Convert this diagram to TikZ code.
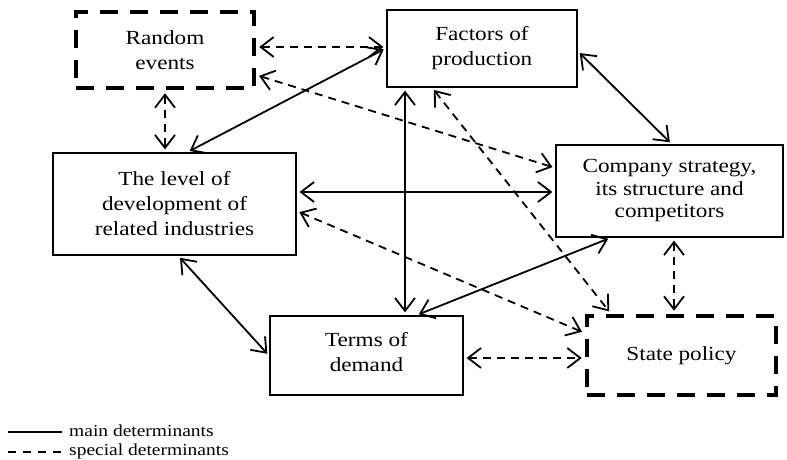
\documentclass[tikz,border=0pt]{standalone}
\usepackage{fontspec}
\setmainfont{Liberation Serif}[FakeStretch=1.16]
\usetikzlibrary{arrows.meta}
\begin{document}
\begin{tikzpicture}[x=1pt,y=-1pt,
  box/.style={draw,line width=1.2pt,rectangle,inner sep=0pt,align=center,
    font=\fontsize{20}{25}\selectfont},
  dbox/.style={box,line width=4.5pt,dash pattern=on 18pt off 12pt},
  link/.style={line width=1.8pt,{Straight Barb[length=13pt,width=20pt]}-{Straight Barb[length=13pt,width=20pt]},
    shorten <=3pt,shorten >=3pt},
  mainlink/.style={link},
  speclink/.style={link,dash pattern=on 8pt off 6pt},
  legtext/.style={anchor=west,inner sep=0pt,font=\fontsize{16.8}{18}\selectfont}]
\useasboundingbox (0,0) rectangle (787,460);

% factor boxes
\node[dbox,minimum width=178pt,minimum height=76pt] (rand) at (165,50) {Random\\events};
\node[box,minimum width=190pt,minimum height=77pt] (fac) at (482,48.5) {Factors of\\production};
\node[box,minimum width=227pt,minimum height=92pt,font=\fontsize{20}{22.5}\selectfont] (comp) at (669.5,191) {Company strategy,\\its structure and\\competitors};
\node[box,minimum width=243pt,minimum height=102pt] (lvl) at (174.5,204) {The level of\\development of\\related industries};
\node[box,minimum width=193pt,minimum height=79pt] (dem) at (366.5,355.5) {Terms of\\demand\strut};
\node[dbox,minimum width=189pt,minimum height=79pt] (sp) at (681.5,355.5) {State policy};

% special (dashed) links
\draw[speclink] (rand.east |- 0,47) -- (fac.west |- 0,47);
\draw[speclink] (rand.east |- 0,75) -- (comp.west |- 0,168);
\draw[speclink] (rand.south) -- (lvl.north -| rand.south);
\draw[speclink] (fac.south -| 432,0) -- (sp.north -| 611,0);
\draw[speclink] (lvl.east |- 0,211) -- (sp.west |- 0,333);
\draw[speclink] (comp.south -| 674,0) -- (sp.north -| 674,0);
\draw[speclink] (dem.east |- 0,358) -- (sp.west |- 0,358);

% main (solid) links
\draw[mainlink] (lvl.north -| 187,0) -- (fac.west |- 0,48);
\draw[mainlink] (lvl.east |- 0,192) -- (comp.west |- 0,192);
\draw[mainlink] (fac.east |- 0,51) -- (comp.north -| 672,0);
\draw[mainlink] (fac.south -| 405,0) -- (dem.north -| 405,0);
\draw[mainlink] (lvl.south -| 178,0) -- (dem.west |- 0,356);
\draw[mainlink] (comp.south -| 611,0) -- (dem.north -| 416,0);

% legend
\node[legtext] (legmain) at (69,431) {main determinants};
\node[legtext] (legspec) at (69,451) {special determinants};
\draw[line width=1.5pt] (8,432) -- (62,432);
\draw[line width=1.5pt,dash pattern=on 8pt off 7pt] (8,452) -- (62,452);
\end{tikzpicture}
\end{document}
